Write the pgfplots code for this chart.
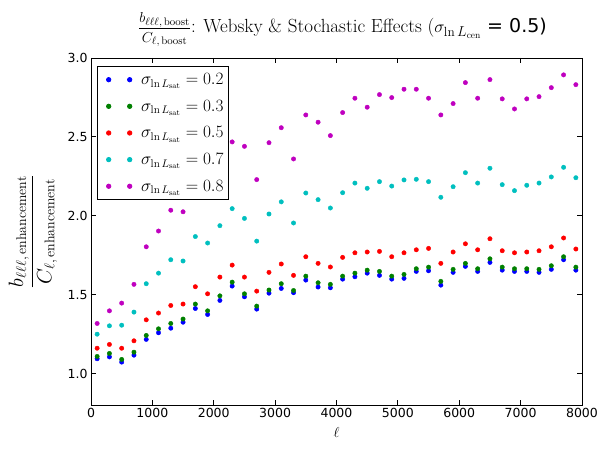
\documentclass[border=0pt]{standalone}
\usepackage{fontspec}
\usepackage{pgfplots}
\pgfplotsset{compat=1.18}
\newfontfamily\dejavu{DejaVu Sans}
\definecolor{mplb}{rgb}{0,0,1}
\definecolor{mplg}{rgb}{0,0.5,0}
\definecolor{mplr}{rgb}{1,0,0}
\definecolor{mplc}{rgb}{0,0.75,0.75}
\definecolor{mplm}{rgb}{0.75,0,0.75}
\pgfplotsset{
  dotstyle/.style={only marks, mark=*, mark size=2.2pt, mark options={draw=#1, fill=#1}, color=#1,
    legend image code/.code={\fill[#1] (8pt,0pt) circle (2.2pt) (29pt,0pt) circle (2.2pt); \path (0pt,0pt) (38pt,0pt);}},
}
\begin{document}
\begin{tikzpicture}
\begin{axis}[
  scale only axis, width=491pt, height=347pt,
  xmin=0, xmax=8000, ymin=0.8, ymax=3.0,
  xtick={0,1000,...,8000}, ytick={1.0,1.5,2.0,2.5,3.0},
  tick align=inside, major tick length=5pt, tick pos=both,
  axis line style={line width=0.8pt}, every tick/.style={black, line width=0.8pt},
  /pgf/number format/assume math mode=true,
  ticklabel style={font=\dejavu\fontsize{12.5}{14}\selectfont},
  xticklabel style={/pgf/number format/.cd, set thousands separator={}, fixed},
  yticklabel style={/pgf/number format/.cd, fixed, fixed zerofill, precision=1},
  xlabel={$\ell$},
  xlabel style={at={(axis description cs:0.5,0)}, anchor=center, yshift=-27pt, font=\fontsize{15}{17}\selectfont},
  title={{\fontsize{15.5}{17}\selectfont$\displaystyle\frac{b_{\ell\ell\ell,\,\mathrm{boost}}}{C_{\ell,\,\mathrm{boost}}}$}: Websky \& Stochastic Effects ($\sigma_{\ln L_{\mathrm{cen}}}$ {\dejavu = 0.5)}},
  title style={at={(axis description cs:0.5,1)}, anchor=south, yshift=5pt, xshift=6pt, inner sep=0pt, font=\fontsize{19}{21}\selectfont},
  legend style={at={(0.012,0.977)}, anchor=north west, draw=black, line width=0.8pt, fill=white,
    font=\fontsize{16}{18}\selectfont, row sep=10pt, inner xsep=3pt, inner ysep=5pt},
  legend cell align=left,
]
\addplot[dotstyle=mplb] coordinates {
(100,1.093)(300,1.105)(500,1.072)(700,1.116)(900,1.216)(1100,1.258)(1300,1.287)(1500,1.325)(1700,1.412)(1900,1.374)
(2100,1.463)(2300,1.554)(2500,1.486)(2700,1.408)(2900,1.509)(3100,1.539)(3300,1.512)(3500,1.592)(3700,1.548)(3900,1.543)
(4100,1.598)(4300,1.613)(4500,1.636)(4700,1.622)(4900,1.598)(5100,1.603)(5300,1.647)(5500,1.651)(5700,1.560)(5900,1.641)
(6100,1.679)(6300,1.647)(6500,1.704)(6700,1.655)(6900,1.647)(7100,1.647)(7300,1.641)(7500,1.660)(7700,1.721)(7900,1.655)};
\addlegendentry{$\sigma_{\ln L_{\mathrm{sat}}}=0.2$}
\addplot[dotstyle=mplg] coordinates {
(100,1.108)(300,1.127)(500,1.089)(700,1.135)(900,1.241)(1100,1.283)(1300,1.317)(1500,1.345)(1700,1.440)(1900,1.397)
(2100,1.492)(2300,1.579)(2500,1.505)(2700,1.427)(2900,1.529)(3100,1.569)(3300,1.526)(3500,1.617)(3700,1.575)(3900,1.565)
(4100,1.617)(4300,1.636)(4500,1.655)(4700,1.647)(4900,1.617)(5100,1.628)(5300,1.664)(5500,1.674)(5700,1.584)(5900,1.660)
(6100,1.698)(6300,1.664)(6500,1.727)(6700,1.674)(6900,1.664)(7100,1.664)(7300,1.660)(7500,1.683)(7700,1.740)(7900,1.674)};
\addlegendentry{$\sigma_{\ln L_{\mathrm{sat}}}=0.3$}
\addplot[dotstyle=mplr] coordinates {
(100,1.160)(300,1.184)(500,1.160)(700,1.207)(900,1.340)(1100,1.383)(1300,1.431)(1500,1.440)(1700,1.550)(1900,1.505)
(2100,1.611)(2300,1.687)(2500,1.611)(2700,1.522)(2900,1.641)(3100,1.694)(3300,1.622)(3500,1.740)(3700,1.698)(3900,1.675)
(4100,1.736)(4300,1.765)(4500,1.770)(4700,1.774)(4900,1.740)(5100,1.765)(5300,1.784)(5500,1.793)(5700,1.698)(5900,1.770)
(6100,1.822)(6300,1.784)(6500,1.854)(6700,1.778)(6900,1.765)(7100,1.770)(7300,1.778)(7500,1.803)(7700,1.859)(7900,1.789)};
\addlegendentry{$\sigma_{\ln L_{\mathrm{sat}}}=0.5$}
\addplot[dotstyle=mplc] coordinates {
(100,1.249)(300,1.302)(500,1.306)(700,1.389)(900,1.569)(1100,1.636)(1300,1.721)(1500,1.713)(1700,1.868)(1900,1.827)
(2100,1.937)(2300,2.045)(2500,1.983)(2700,1.839)(2900,2.011)(3100,2.088)(3300,1.954)(3500,2.144)(3700,2.102)(3900,2.049)
(4100,2.146)(4300,2.207)(4500,2.174)(4700,2.216)(4900,2.188)(5100,2.227)(5300,2.231)(5500,2.216)(5700,2.117)(5900,2.184)
(6100,2.273)(6300,2.207)(6500,2.301)(6700,2.197)(6900,2.159)(7100,2.193)(7300,2.207)(7500,2.246)(7700,2.307)(7900,2.241)};
\addlegendentry{$\sigma_{\ln L_{\mathrm{sat}}}=0.7$}
\addplot[dotstyle=mplm] coordinates {
(100,1.317)(300,1.397)(500,1.446)(700,1.565)(900,1.803)(1100,1.903)(1300,2.035)(1500,2.025)(1700,2.25)(1900,2.20)
(2100,2.35)(2300,2.468)(2500,2.440)(2700,2.229)(2900,2.463)(3100,2.558)(3300,2.360)(3500,2.639)(3700,2.593)(3900,2.508)
(4100,2.654)(4300,2.745)(4500,2.688)(4700,2.768)(4900,2.749)(5100,2.802)(5300,2.802)(5500,2.745)(5700,2.639)(5900,2.711)
(6100,2.844)(6300,2.745)(6500,2.863)(6700,2.741)(6900,2.677)(7100,2.741)(7300,2.755)(7500,2.812)(7700,2.893)(7900,2.831)};
\addlegendentry{$\sigma_{\ln L_{\mathrm{sat}}}=0.8$}
\end{axis}
\node[inner sep=0pt, font=\fontsize{20}{22}\selectfont] at ([xshift=-58pt]current axis.west)
  {\rotatebox{90}{$\displaystyle\frac{b_{\ell\ell\ell,\,\mathrm{enhancement}}}{C_{\ell,\,\mathrm{enhancement}}}$}};
\pgfresetboundingbox
\useasboundingbox ([shift={(-91pt,-45pt)}]current axis.south west) rectangle ([shift={(18pt,58pt)}]current axis.north east);
\end{tikzpicture}
\end{document}
